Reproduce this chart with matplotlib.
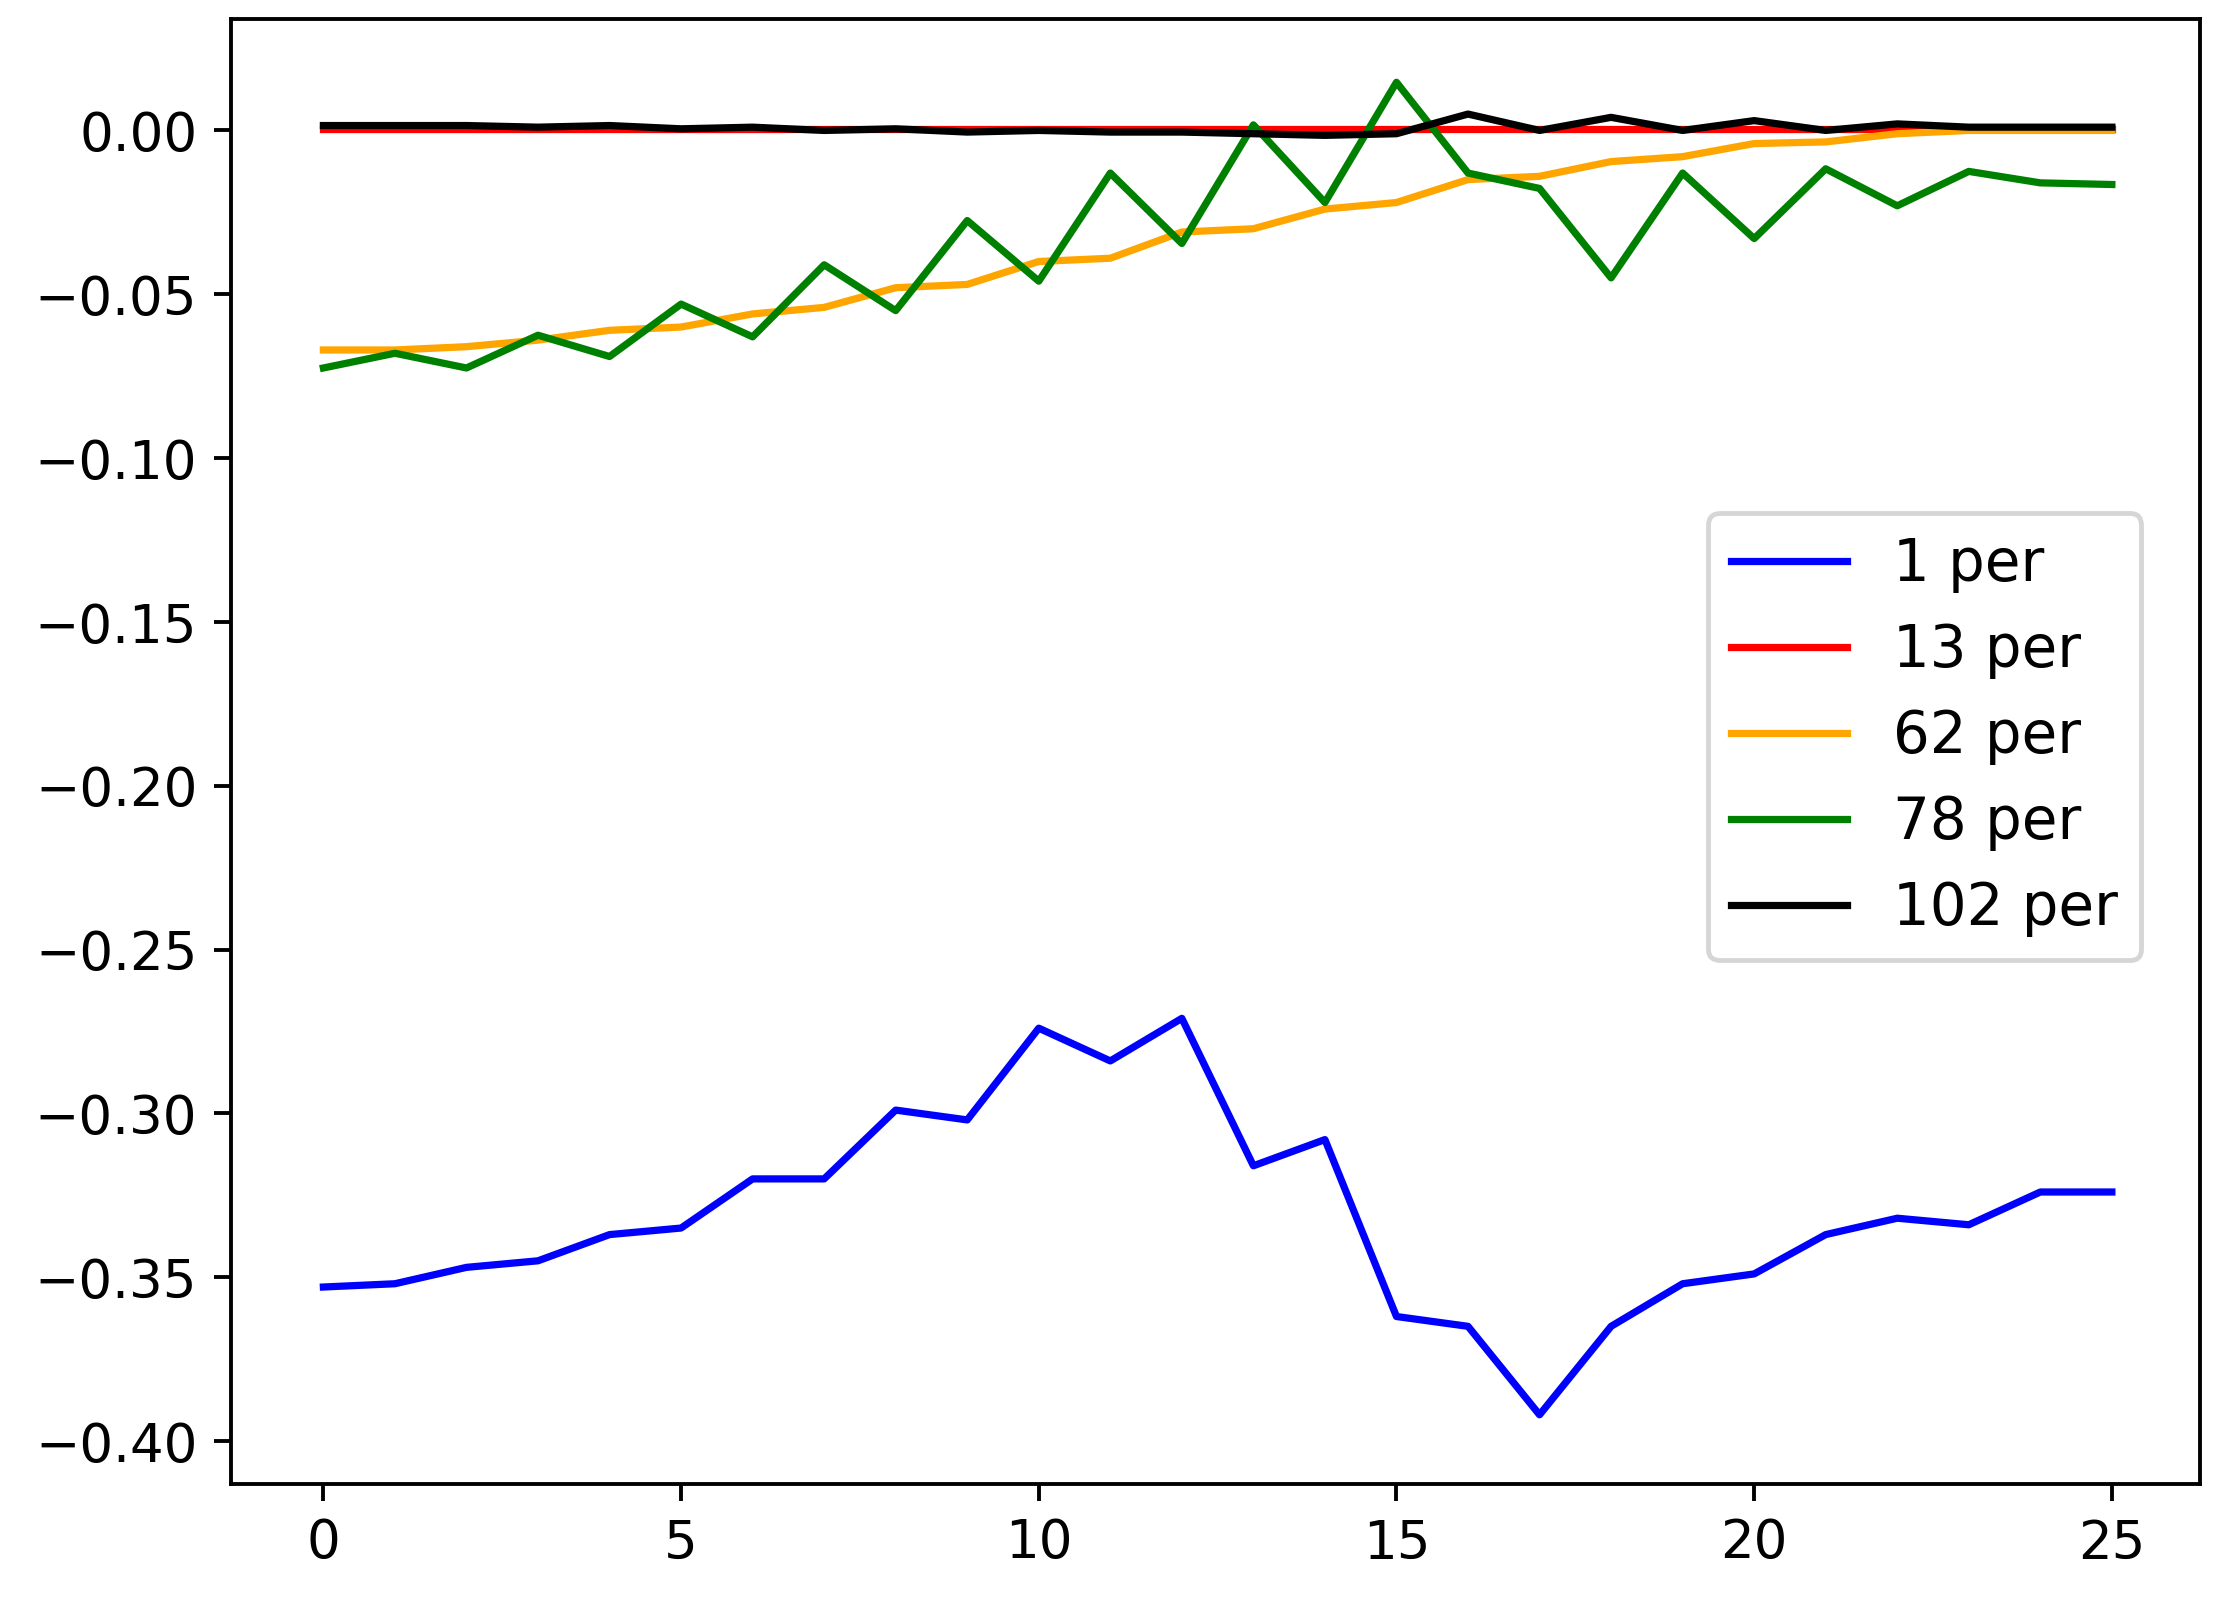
import matplotlib
matplotlib.use("Agg")
import matplotlib.pyplot as plt

x = list(range(26))
s1 = [-0.353,-0.352,-0.347,-0.345,-0.337,-0.335,-0.320,-0.320,-0.299,-0.302,-0.274,-0.284,-0.271,
      -0.316,-0.308,-0.362,-0.365,-0.392,-0.365,-0.352,-0.349,-0.337,-0.332,-0.334,-0.324,-0.324]
s13 = [0.0005]*26
s62 = [-0.067,-0.067,-0.066,-0.064,-0.061,-0.060,-0.056,-0.054,-0.048,-0.047,-0.040,-0.039,-0.031,
       -0.030,-0.024,-0.022,-0.015,-0.014,-0.0095,-0.008,-0.004,-0.0035,-0.001,0.0,0.0,0.0]
s78 = [-0.0725,-0.068,-0.0725,-0.0625,-0.069,-0.053,-0.063,-0.041,-0.055,-0.0275,-0.046,-0.013,-0.0345,
       0.0017,-0.022,0.0147,-0.013,-0.0177,-0.045,-0.013,-0.033,-0.0117,-0.023,-0.0125,-0.016,-0.0165]
s102 = [0.0015,0.0015,0.0015,0.001,0.0015,0.0005,0.001,0.0,0.0005,-0.0005,0.0,-0.0005,-0.0005,-0.001,
        -0.0015,-0.001,0.005,0.0,0.004,0.0,0.003,0.0,0.002,0.001,0.001,0.001]
labels = ["1 per","13 per","62 per","78 per","102 per"]
colors = ["blue","red","orange","green","black"]

fig = plt.figure(figsize=(6.4, 4.6), dpi=347.2)
ax = fig.add_axes([0.104, 0.071, 0.886, 0.917])
for s, l, c in zip([s1, s13, s62, s78, s102], labels, colors):
    ax.plot(x, s, color=c, label=l, lw=1.5)
ax.set_xlim(-1.29, 26.23)
ax.set_ylim(-0.413, 0.034)
ax.set_xticks([0,5,10,15,20,25])
ax.set_yticks([0.0,-0.05,-0.10,-0.15,-0.20,-0.25,-0.30,-0.35,-0.40])
ax.tick_params(labelsize=11)
ax.legend(loc="center right", bbox_to_anchor=(0.985, 0.51), fontsize=12)
fig.savefig("out.png", dpi=347.2)
